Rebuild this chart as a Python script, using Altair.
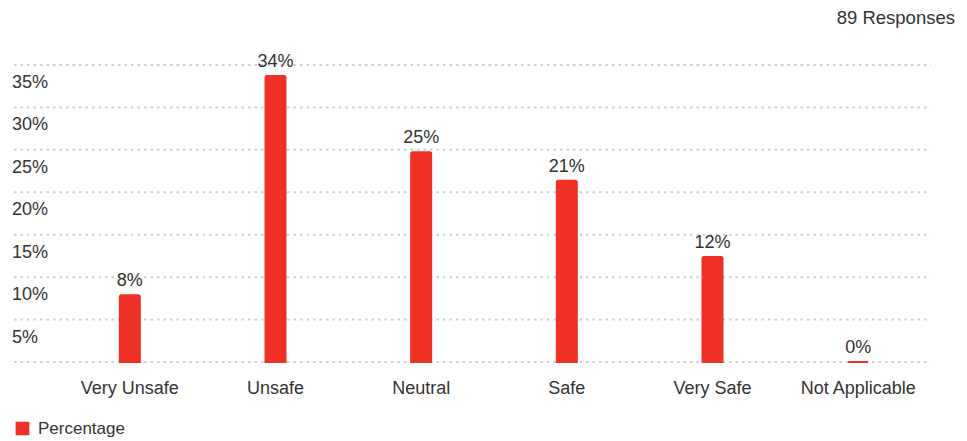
import altair as alt
import pandas as pd

categories = ["Very Unsafe", "Unsafe", "Neutral", "Safe", "Very Safe", "Not Applicable"]
percentages = [7.87, 33.71, 24.72, 21.35, 12.36, 0.0]
labels = ["8%", "34%", "25%", "21%", "12%", "0%"]
grid_values = [0, 5, 10, 15, 20, 25, 30, 35]
y_ticks = [5, 10, 15, 20, 25, 30, 35]
y_tick_labels = ["5%", "10%", "15%", "20%", "25%", "30%", "35%"]
responses_text = "89 Responses"
series_name = "Percentage"

RED = "#EE3124"
TXT = "#333333"
FONT = "Liberation Sans"

df = pd.DataFrame({"cat": categories, "pct": percentages, "label": labels,
                   "series": [series_name] * len(categories)})
grid_df = pd.DataFrame({"v": grid_values})
ytick_df = pd.DataFrame({"v": y_ticks, "t": y_tick_labels})

W, H = 874, 297

y_scale = alt.Scale(domain=[0, 35], nice=False)

grid = alt.Chart(grid_df).mark_rule(color="#cfcfcf", strokeWidth=2, strokeDash=[2.5, 4]).encode(
    y=alt.Y("v:Q", scale=y_scale, axis=None),
    x=alt.value(-43), x2=alt.value(W),
)

ylabels = alt.Chart(ytick_df).mark_text(align="left", baseline="middle", dy=18,
                                        fontSize=18, color=TXT, font=FONT).encode(
    y=alt.Y("v:Q", scale=y_scale, axis=None),
    x=alt.value(-45),
    text="t:N",
)

bars = alt.Chart(df).mark_bar(size=20, stroke=RED, strokeWidth=2,
                              cornerRadiusTopLeft=1.5, cornerRadiusTopRight=1.5).encode(
    x=alt.X("cat:N", sort=categories, title=None,
            scale=alt.Scale(paddingInner=0.85, paddingOuter=0.425),
            axis=alt.Axis(labelAngle=0, labelFontSize=18, labelColor=TXT, labelFont=FONT,
                          domain=False, ticks=False, labelPadding=17, grid=False)),
    y=alt.Y("pct:Q", scale=y_scale, axis=None),
    color=alt.Color("series:N", scale=alt.Scale(range=[RED]),
                    legend=alt.Legend(title=None, orient="none", legendX=-43, legendY=355,
                                      symbolType="square", symbolSize=150, symbolOffset=0,
                                      labelOffset=7,
                                      labelFontSize=17, labelColor=TXT, labelFont=FONT)),
)

text = alt.Chart(df).mark_text(baseline="bottom", dy=-5, fontSize=18, color=TXT, font=FONT).encode(
    x=alt.X("cat:N", sort=categories),
    y=alt.Y("pct:Q", scale=y_scale),
    text="label:N",
)

resp = alt.Chart(pd.DataFrame({"t": [responses_text]})).mark_text(
    align="right", baseline="middle", fontSize=18.5, color=TXT, font=FONT).encode(
    x=alt.value(898), y=alt.value(-47), text="t:N")

chart = alt.layer(grid, ylabels, bars, text, resp).properties(
    width=W, height=H,
    background="white",
    autosize=alt.AutoSizeParams(type="none"),
    padding={"left": 57, "top": 65, "right": 36, "bottom": 79},
).configure_view(strokeWidth=0)

chart.save("out.html", embed_options={"renderer": "svg", "actions": False})
